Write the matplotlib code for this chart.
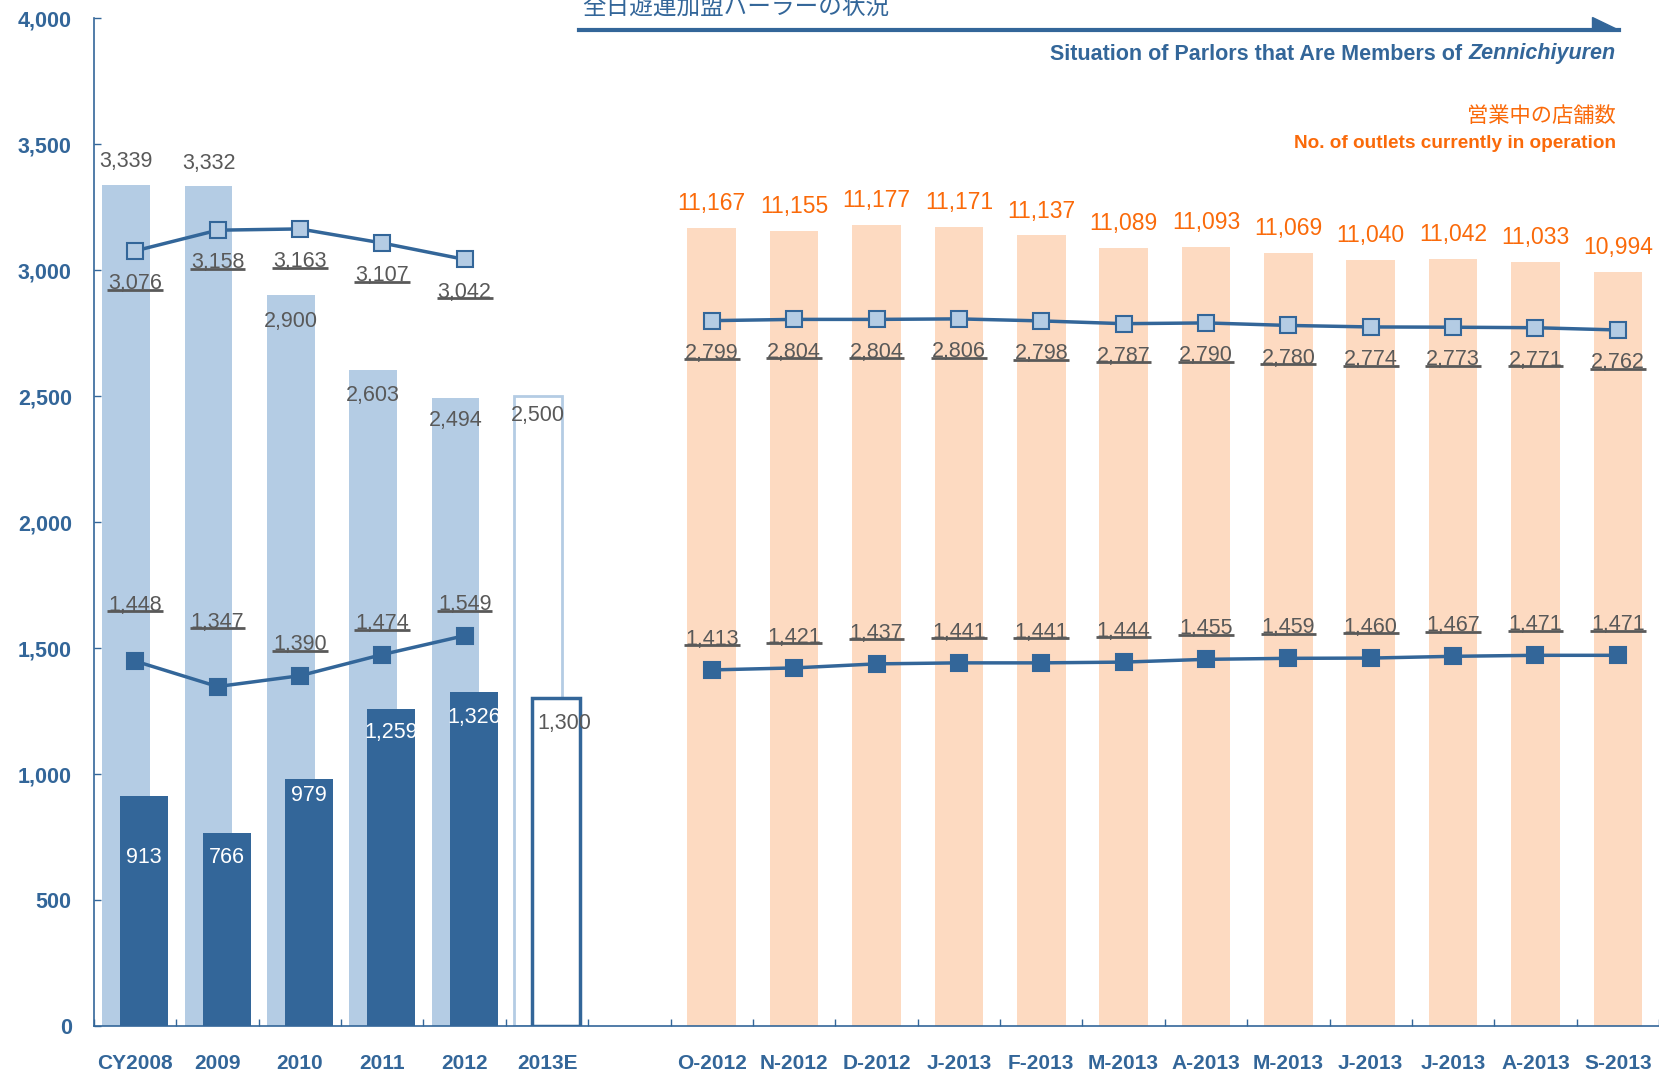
import matplotlib
matplotlib.use('Agg')
import matplotlib.pyplot as plt
from matplotlib.lines import Line2D
from matplotlib.patches import Polygon
import numpy as np

plt.rcParams['font.family'] = ['Liberation Sans', 'DejaVu Sans']

# yearly part (2013E is an estimate, drawn as outlines)
years = ['CY2008', '2009', '2010', '2011', '2012', '2013E']
year_light = [3339, 3332, 2900, 2603, 2494, 2500]
year_dark = [913, 766, 979, 1259, 1326, 1300]
year_line_hi = [3076, 3158, 3163, 3107, 3042]
year_line_lo = [1448, 1347, 1390, 1474, 1549]

# monthly part
months = ['O-2012', 'N-2012', 'D-2012', 'J-2013', 'F-2013', 'M-2013',
          'A-2013', 'M-2013', 'J-2013', 'J-2013', 'A-2013', 'S-2013']
outlets = [11167, 11155, 11177, 11171, 11137, 11089,
           11093, 11069, 11040, 11042, 11033, 10994]
month_line_hi = [2799, 2804, 2804, 2806, 2798, 2787,
                 2790, 2780, 2774, 2773, 2771, 2762]
month_line_lo = [1413, 1421, 1437, 1441, 1441, 1444,
                 1455, 1459, 1460, 1467, 1471, 1471]
OUTLET_BASE = 8000   # outlet bars share the axis, shifted down by this

LIGHT = '#B4CCE4'
DARK = '#336699'
PEACH = '#FDDAC1'
ORANGE = '#FA6A0A'
GRAY = '#595959'

W, H = 1659, 1074
fig = plt.figure(figsize=(W / 100, H / 100), dpi=100)
ax = fig.add_axes([94 / W, (H - 1026) / H, (W - 94) / W, (1026 - 18) / H])

xy = np.arange(len(years))
xm = np.arange(len(years) + 1, len(years) + 1 + len(months))
n_slots = len(years) + 1 + len(months)

bw = 0.58
off = 0.11

# yearly bars
ax.bar(xy[:-1] - off, year_light[:-1], width=bw, color=LIGHT, zorder=1)
ax.bar(xy[-1] - off, year_light[-1], width=bw, facecolor='white',
       edgecolor=LIGHT, linewidth=2, zorder=1)
ax.bar(xy[:-1] + off, year_dark[:-1], width=bw, color=DARK, zorder=2)
ax.bar(xy[-1] + off, year_dark[-1], width=bw, facecolor='white',
       edgecolor=DARK, linewidth=2.5, zorder=2)

# monthly bars
ax.bar(xm, np.array(outlets) - OUTLET_BASE, width=0.59, color=PEACH, zorder=1)

# lines
def draw_line(x, y, face):
    ax.plot(x, y, color=DARK, lw=2.5, zorder=3,
            marker='s', markersize=12, markerfacecolor=face,
            markeredgecolor=DARK, markeredgewidth=1.5)

draw_line(xy[:len(year_line_hi)], year_line_hi, LIGHT)
draw_line(xy[:len(year_line_lo)], year_line_lo, DARK)
draw_line(xm, month_line_hi, LIGHT)
draw_line(xm, month_line_lo, DARK)

fs = 15.5
underlined = []

def fmt(v):
    return f'{v:,}'

# light bar labels: first two above the bar, rest inside
light_shift = [92, 92, -105, -100, -92, -76]
for x, v, d in zip(xy, year_light, light_shift):
    ax.text(x - off, v + d, fmt(v), ha='center', va='center',
            fontsize=fs, color=GRAY, zorder=5)

# dark bar labels (white inside the bar, gray for the estimate)
dark_shift = [246, 99, 64, 96, 100]
for x, v, d in zip(xy[:-1], year_dark[:-1], dark_shift):
    ax.text(x + off, v - d, fmt(v), ha='center', va='center',
            fontsize=fs, color='white', zorder=5)
ax.text(xy[-1] + off + 0.1, year_dark[-1] - 100, fmt(year_dark[-1]),
        ha='center', va='center', fontsize=fs, color=GRAY, zorder=5)

# line labels (underlined)
for x, v in zip(xy, year_line_hi):
    underlined.append(ax.text(x, v - 130, fmt(v), ha='center', va='center',
                              fontsize=fs, color=GRAY, zorder=5))
lo_shift = [222, 256, 122, 122, 122]
for x, v, d in zip(xy, year_line_lo, lo_shift):
    underlined.append(ax.text(x, v + d, fmt(v), ha='center', va='center',
                              fontsize=fs, color=GRAY, zorder=5))
for x, v in zip(xm, month_line_hi):
    underlined.append(ax.text(x, v - 130, fmt(v), ha='center', va='center',
                              fontsize=fs, color=GRAY, zorder=5))
for x, v in zip(xm, month_line_lo):
    underlined.append(ax.text(x, v + 122, fmt(v), ha='center', va='center',
                              fontsize=fs, color=GRAY, zorder=5))

# outlet labels with real values
for x, v in zip(xm, outlets):
    ax.text(x, v - OUTLET_BASE + 97, fmt(v), ha='center', va='center',
            fontsize=16.5, color=ORANGE, zorder=5)

# axes styling
ax.set_xlim(-0.5, n_slots - 0.5)
ax.set_ylim(0, 4000)
ax.set_yticks(np.arange(0, 4001, 500))
ax.set_yticklabels([fmt(v) for v in range(0, 4001, 500)])
ax.set_xticks(np.arange(n_slots))
ax.set_xticklabels(years + [''] + months)
ax.set_xticks(np.arange(n_slots + 1) - 0.5, minor=True)
ax.tick_params(axis='x', which='major', length=0, pad=20,
               labelsize=15, labelcolor=DARK)
ax.tick_params(axis='x', which='minor', direction='in', length=5,
               color=DARK, width=1)
ax.tick_params(axis='y', direction='in', length=5, color=DARK,
               width=1, pad=16, labelsize=15.5, labelcolor=DARK)
for lab in ax.get_xticklabels() + ax.get_yticklabels():
    lab.set_fontweight('bold')
for s in ['top', 'right']:
    ax.spines[s].set_visible(False)
for s in ['left', 'bottom']:
    ax.spines[s].set_color(DARK)
    ax.spines[s].set_linewidth(1.2)

# headings
def fy(px):
    return 1 - px / H

fig.text(582 / W, fy(15), '全日遊連加盟パーラーの状況', ha='left', va='baseline',
         fontsize=17, color=DARK, family=['Noto Sans CJK JP', 'DejaVu Sans'])
fig.add_artist(Line2D([579 / W, 1619 / W], [fy(30), fy(30)], color=DARK, lw=3))
fig.add_artist(Polygon([[1592 / W, fy(17)], [1592 / W, fy(30)], [1619 / W, fy(30)]],
                       closed=True, color=DARK))
t_it = fig.text(1616 / W, fy(54), 'Zennichiyuren', ha='right', va='center',
                fontsize=15.5, color=DARK, fontweight='bold', style='italic')
fig.text(1616 / W, fy(116), '営業中の店舗数', ha='right', va='center',
         fontsize=15.3, color=ORANGE, family=['Noto Sans CJK JP', 'DejaVu Sans'])
fig.text(1616 / W, fy(143), 'No. of outlets currently in operation', ha='right',
         va='center', fontsize=13.7, color=ORANGE, fontweight='bold')

fig.canvas.draw()
r = fig.canvas.get_renderer()
bb = t_it.get_window_extent(r)
fig.text((bb.x0 - 7) / W, fy(54), 'Situation of Parlors that Are Members of',
         ha='right', va='center', fontsize=15.5, color=DARK, fontweight='bold')

# underline just below the digits
for t in underlined:
    b = t.get_window_extent(r)
    yy = (b.y0 + 4.5) / H
    fig.add_artist(Line2D([(b.x0 - 1) / W, (b.x1 + 1) / W], [yy, yy],
                          color=GRAY, lw=2, solid_capstyle='butt'))

fig.savefig('out.png', dpi=100)
